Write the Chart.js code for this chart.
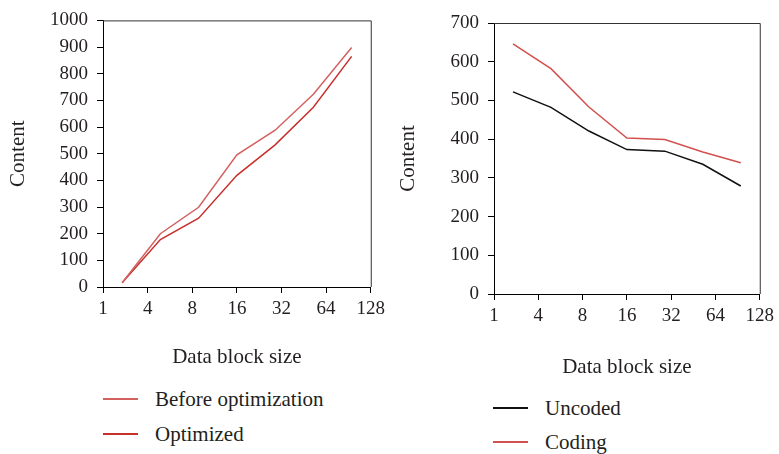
<!DOCTYPE html>
<html>
<head>
<meta charset="utf-8">
<script src="https://cdn.jsdelivr.net/npm/chart.js@4"></script>
<style>
  html, body { margin: 0; padding: 0; background: #fff; }
  body { width: 779px; height: 454px; position: relative; overflow: hidden;
         font-family: "Liberation Serif", "DejaVu Serif", serif; color: #231f20; }
  .panel { position: absolute; top: 0; }
  .legend { position: absolute; font-size: 21px; }
  .legend .item { position: absolute; left: 0; white-space: nowrap; height: 24px; line-height: 24px; }
  .legend .swatch { position: absolute; left: 0; top: 11px; width: 35px; height: 1.6px; }
  .legend .text { position: absolute; left: 52px; top: 0; }
</style>
</head>
<body>
<div class="panel" id="leftPanel" style="left:0;width:390px;height:370px;"><canvas id="leftChart"></canvas></div>
<div class="panel" id="rightPanel" style="left:390px;width:389px;height:380px;"><canvas id="rightChart"></canvas></div>

<div class="legend" id="leftLegend" style="left:103px;top:387px;"></div>
<div class="legend" id="rightLegend" style="left:493px;top:396px;"></div>

<script>
// x tick labels (data block size) and where they sit on the 0..7 axis
const blockLabels = ["1", "4", "8", "16", "32", "64", "128"];
const blockTickPos = [0, 1.1667, 2.3333, 3.5, 4.6667, 5.8333, 7];
// sample positions: each point sits in the middle of one of seven bins
const sampleX = [0.5, 1.5, 2.5, 3.5, 4.5, 5.5, 6.5];

// left panel
const beforeOptimization = [16, 200, 299, 496, 588, 723, 898];
const optimized = [16, 178, 258, 419, 533, 674, 865];

// right panel
const uncoded = [522, 482, 421, 373, 369, 335, 279];
const coding = [646, 582, 483, 403, 399, 367, 339];

const TEXT = "#231f20";
const FONT = "Liberation Serif, DejaVu Serif, serif";

const frameBox = {
  id: "frameBox",
  afterDraw(chart) {
    const { ctx, chartArea: a } = chart;
    ctx.save();
    ctx.strokeStyle = "#333";
    ctx.lineWidth = 1;
    ctx.beginPath();
    ctx.moveTo(a.left, a.top + 0.5);
    ctx.lineTo(a.right + 0.5, a.top + 0.5);
    ctx.lineTo(a.right + 0.5, a.bottom);
    ctx.stroke();
    ctx.restore();
  }
};

function toPoints(values) {
  return values.map((v, i) => ({ x: sampleX[i], y: v }));
}

function makeChart(canvasId, cfg) {
  const datasets = cfg.series.map(s => ({
    label: s.label,
    data: toPoints(s.values),
    borderColor: s.color,
    borderWidth: 1.5,
    pointRadius: 0,
    tension: 0,
    fill: false
  }));

  return new Chart(document.getElementById(canvasId), {
    type: "line",
    data: { datasets },
    plugins: [frameBox],
    options: {
      responsive: true,
      maintainAspectRatio: false,
      animation: false,
      layout: { padding: { top: cfg.padTop, right: cfg.padRight, left: 0, bottom: 0 } },
      plugins: { legend: { display: false }, tooltip: { enabled: false } },
      scales: {
        x: {
          type: "linear",
          min: 0,
          max: 7,
          afterBuildTicks(scale) {
            scale.ticks = blockTickPos.map(v => ({ value: v }));
          },
          afterFit(scale) { scale.height = cfg.xHeight; },
          ticks: {
            color: TEXT,
            font: { family: FONT, size: 19 },
            padding: 5,
            maxRotation: 0,
            autoSkip: false,
            callback: (value, index) => blockLabels[index]
          },
          grid: { drawOnChartArea: false, drawTicks: true, tickLength: 6, color: "#000" },
          border: { display: true, color: "#000", width: 1 },
          title: {
            display: true,
            text: "Data block size",
            color: TEXT,
            font: { family: FONT, size: 21 },
            padding: { top: 0, bottom: 0 }
          }
        },
        y: {
          min: 0,
          max: cfg.yMax,
          afterFit(scale) { scale.width = cfg.yWidth; },
          ticks: {
            stepSize: 100,
            color: TEXT,
            font: { family: FONT, size: 19 },
            padding: 9,
            callback: value => String(value)
          },
          grid: { drawOnChartArea: false, drawTicks: true, tickLength: 6, color: "#000" },
          border: { display: true, color: "#000", width: 1 },
          title: {
            display: true,
            text: "Content",
            color: TEXT,
            font: { family: FONT, size: 21 },
            padding: { top: 6, bottom: 0 }
          }
        }
      }
    }
  });
}

const leftSeries = [
  { label: "Before optimization", values: beforeOptimization, color: "#d2615f" },
  { label: "Optimized", values: optimized, color: "#c8302b" }
];
const rightSeries = [
  { label: "Uncoded", values: uncoded, color: "#111111" },
  { label: "Coding", values: coding, color: "#d2504d" }
];

makeChart("leftChart", { series: leftSeries, yMax: 1000, yWidth: 103, xHeight: 83, padTop: 15, padRight: 17 });
makeChart("rightChart", { series: rightSeries, yMax: 700, yWidth: 104, xHeight: 86, padTop: 23, padRight: 15 });

function buildLegend(id, series, gap) {
  const box = document.getElementById(id);
  series.forEach((s, i) => {
    const item = document.createElement("div");
    item.className = "item";
    item.style.top = (i * gap) + "px";
    item.innerHTML = `<span class="swatch" style="background:${s.color}"></span><span class="text">${s.label}</span>`;
    box.appendChild(item);
  });
}
buildLegend("leftLegend", leftSeries, 35);
buildLegend("rightLegend", rightSeries, 34);
</script>
</body>
</html>
